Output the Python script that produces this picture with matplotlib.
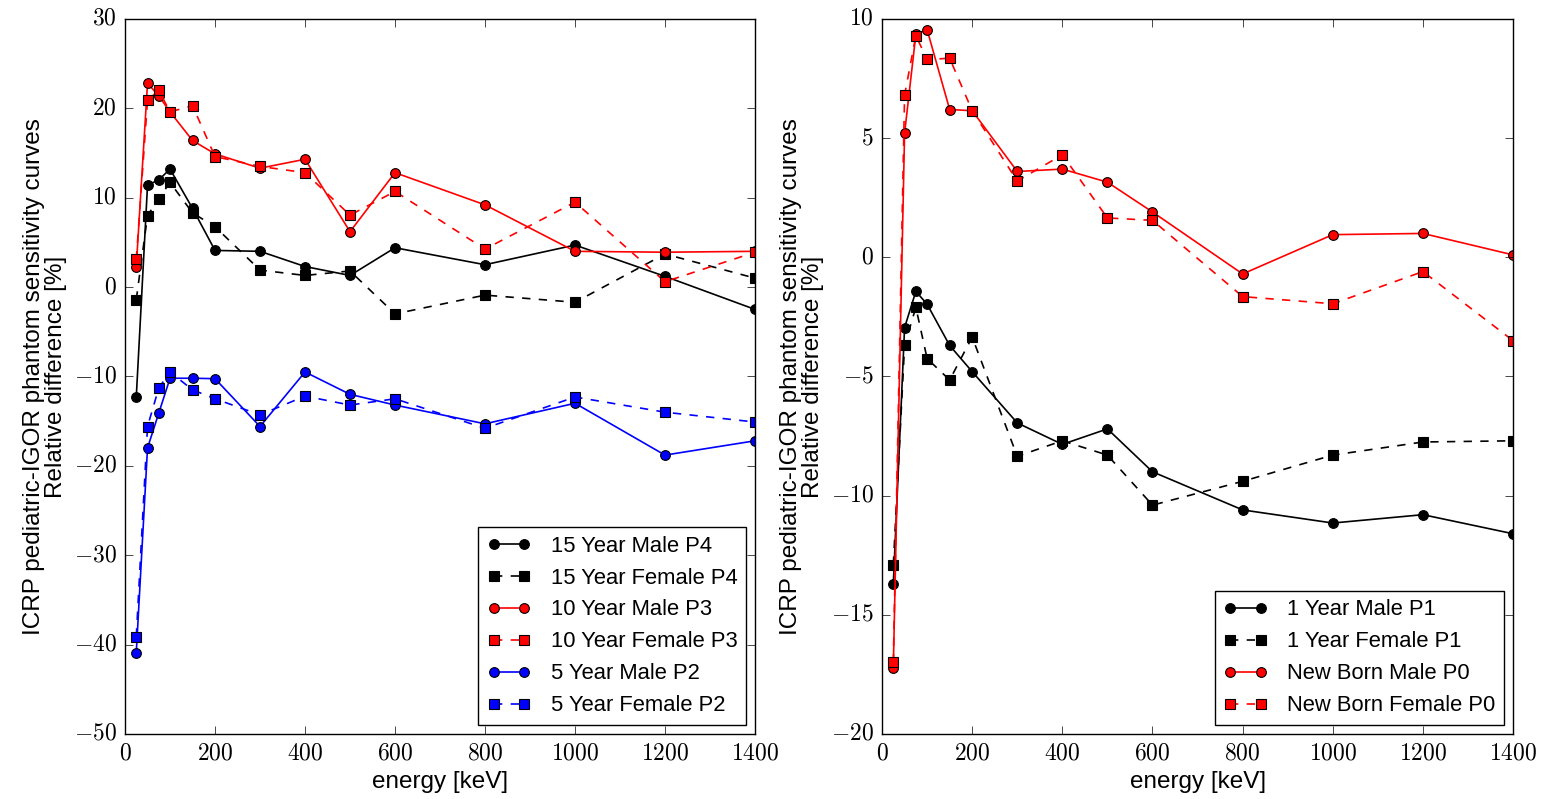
import matplotlib
matplotlib.use("Agg")
import matplotlib.pyplot as plt
from matplotlib.ticker import FuncFormatter

plt.style.use("classic")
plt.rcParams["mathtext.fontset"] = "cm"
plt.rcParams["font.family"] = ["Liberation Sans", "DejaVu Sans"]

energy = [25, 50, 75, 100, 150, 200, 300, 400, 500, 600, 800, 1000, 1200, 1400]

# left panel
male15 = [-12.3, 11.4, 12.0, 13.2, 8.8, 4.1, 4.0, 2.3, 1.3, 4.4, 2.5, 4.7, 1.2, -2.5]
female15 = [-1.4, 8.0, 9.9, 11.7, 8.3, 6.75, 1.9, 1.3, 1.8, -3.0, -0.9, -1.7, 3.7, 1.0]
male10 = [2.3, 22.8, 21.4, 19.6, 16.4, 14.9, 13.3, 14.3, 6.2, 12.8, 9.2, 4.0, 3.9, 4.0]
female10 = [3.1, 20.9, 22.0, 19.6, 20.3, 14.6, 13.5, 12.8, 8.05, 10.7, 4.25, 9.5, 0.6, 3.9]
male5 = [-40.9, -18.0, -14.1, -10.2, -10.2, -10.25, -15.6, -9.5, -12.0, -13.2, -15.3, -13.0, -18.8, -17.2]
female5 = [-39.1, -15.6, -11.3, -9.5, -11.5, -12.5, -14.3, -12.2, -13.2, -12.5, -15.8, -12.3, -14.0, -15.1]

# right panel
male1 = [-13.7, -2.95, -1.43, -1.97, -3.7, -4.8, -6.95, -7.85, -7.2, -9.0, -10.6, -11.15, -10.8, -11.6]
female1 = [-12.9, -3.7, -2.1, -4.25, -5.15, -3.35, -8.35, -7.7, -8.3, -10.4, -9.4, -8.3, -7.75, -7.7]
male0 = [-17.25, 5.2, 9.35, 9.55, 6.2, 6.15, 3.6, 3.7, 3.15, 1.9, -0.7, 0.95, 1.0, 0.1]
female0 = [-17.0, 6.8, 9.3, 8.3, 8.35, 6.15, 3.2, 4.3, 1.65, 1.55, -1.65, -1.95, -0.6, -3.5]

ylab = "ICRP pediatric-IGOR phantom sensitivity curves\nRelative difference [%]"

fig = plt.figure(figsize=(15.57, 7.99), dpi=100, facecolor="white")
ax1 = fig.add_axes([0.0803, 0.0814, 0.4046, 0.8949])
ax2 = fig.add_axes([0.5665, 0.0814, 0.4053, 0.8949])

kw = dict(markersize=7, linewidth=1.2, markeredgecolor="black", markeredgewidth=0.8)

ax1.plot(energy, male15, "o-", color="black", label="15 Year Male P4", **kw)
ax1.plot(energy, female15, "s--", color="black", label="15 Year Female P4", **kw)
ax1.plot(energy, male10, "o-", color="red", label="10 Year Male P3", **kw)
ax1.plot(energy, female10, "s--", color="red", label="10 Year Female P3", **kw)
ax1.plot(energy, male5, "o-", color="blue", label="5 Year Male P2", **kw)
ax1.plot(energy, female5, "s--", color="blue", label="5 Year Female P2", **kw)
ax1.set_ylim(-50, 30)

ax2.plot(energy, male1, "o-", color="black", label="1 Year Male P1", **kw)
ax2.plot(energy, female1, "s--", color="black", label="1 Year Female P1", **kw)
ax2.plot(energy, male0, "o-", color="red", label="New Born Male P0", **kw)
ax2.plot(energy, female0, "s--", color="red", label="New Born Female P0", **kw)
ax2.set_ylim(-20, 10)

fmt = FuncFormatter(lambda v, p: r"$%d$" % v)
for ax in (ax1, ax2):
    ax.set_xlim(0, 1400)
    ax.set_xlabel("energy [keV]", fontsize=17.5)
    ax.set_ylabel(ylab, fontsize=17.5, linespacing=1.0)
    ax.xaxis.set_major_formatter(fmt)
    ax.yaxis.set_major_formatter(fmt)
    ax.tick_params(labelsize=17, length=6, pad=6)
    leg = ax.legend(loc="lower right", fontsize=15.8, numpoints=2, borderaxespad=0.4,
                    labelspacing=0.5, handlelength=2.0, handletextpad=0.9,
                    borderpad=0.4, fancybox=False)
    leg.get_frame().set_linewidth(1.0)

fig.savefig("out.png", dpi=100, facecolor="white")
